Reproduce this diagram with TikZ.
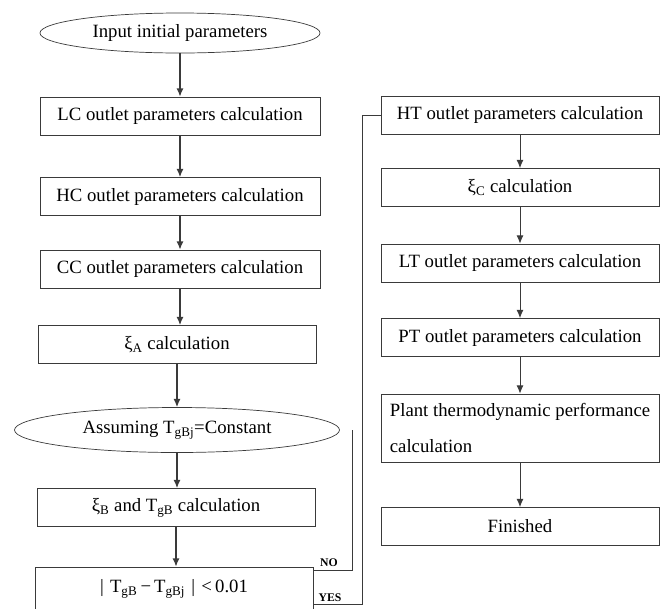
\documentclass[tikz,border=0pt]{standalone}
\usepackage{fontspec}
\setmainfont{Liberation Serif}
\usetikzlibrary{arrows.meta,shapes.geometric}
\definecolor{FlowGray}{HTML}{3A3A3A}
\tikzset{
  procbox/.style={draw=FlowGray,line width=0.7pt,minimum width=8.34cm,minimum height=1.14cm,
    inner sep=2pt,font=\fontsize{16}{19}\selectfont},
  termnode/.style={ellipse,draw=FlowGray,line width=0.6pt,inner sep=0pt,
    font=\fontsize{16}{19}\selectfont},
  flowarrow/.style={FlowGray,line width=1.1pt,-{Latex[length=7pt,width=6pt]}},
  loopline/.style={FlowGray,line width=0.8pt},
  branchlbl/.style={font=\fontsize{10}{12}\selectfont\bfseries,inner sep=1pt}
}

\begin{document}
\begin{tikzpicture}[x=0.03cm,y=-0.03cm]
  \useasboundingbox (0,0) rectangle (664,608);
  % left column
  \node[termnode,minimum width=8.4cm,minimum height=1.2cm] (input) at (180,33) {Input initial parameters};
  \node[procbox,minimum width=8.4cm] (lc) at (180,116) {LC outlet parameters calculation};
  \node[procbox,minimum width=8.4cm] (hc) at (180,196.5) {HC outlet parameters calculation};
  \node[procbox,minimum width=8.4cm] (cc) at (180,269) {CC outlet parameters calculation};
  \node[procbox] (xia) at (177,344.5) {ξ\textsubscript{A} calculation};
  \node[termnode,minimum width=9.75cm,minimum height=1.35cm] (assume) at (177,430) {Assuming T\textsubscript{gBj}=Constant};
  \node[procbox] (xib) at (176,507.5) {ξ\textsubscript{B} and T\textsubscript{gB} calculation};
  \node[procbox,minimum height=1.32cm] (check) at (174,589) {|\,\,T\textsubscript{gB}\,−\,T\textsubscript{gBj}\,\,|\,\,<\,0.01};
  % right column
  \node[procbox] (ht) at (520,115) {HT outlet parameters calculation};
  \node[procbox] (xic) at (520,187.5) {ξ\textsubscript{C} calculation};
  \node[procbox] (lt) at (520,263) {LT outlet parameters calculation};
  \node[procbox] (pt) at (520,337.5) {PT outlet parameters calculation};
  \node[procbox,minimum height=2.04cm,align=left,font=\fontsize{16}{30}\selectfont] (plant) at (520,428)
    {Plant thermodynamic performance\\calculation};
  \node[procbox] (done) at (520,526.5) {Finished};

  \foreach \a/\b in {input/lc,lc/hc,hc/cc,cc/xia,xia/assume,assume/xib,xib/check}
    \draw[flowarrow] (\a.south) -- (\a.south |- \b.north);
  \foreach \a/\b in {ht/xic,xic/lt,lt/pt,pt/plant,plant/done}
    \draw[flowarrow,line width=0.8pt] (\a.south) -- (\b.north);

  % branches
  \coordinate (noturn) at (352,570);
  \coordinate (noend) at (352,430);
  \coordinate (yesturn) at (362,604);
  \draw[loopline] (check.east |- noturn) -- (noturn) -- (noend);
  \draw[loopline] (check.east |- yesturn) -- (yesturn) |- (ht.west);
  \node[branchlbl] (nolbl) at (329,563) {NO};
  \node[branchlbl] (yeslbl) at (330,598) {YES};
\end{tikzpicture}
\end{document}
